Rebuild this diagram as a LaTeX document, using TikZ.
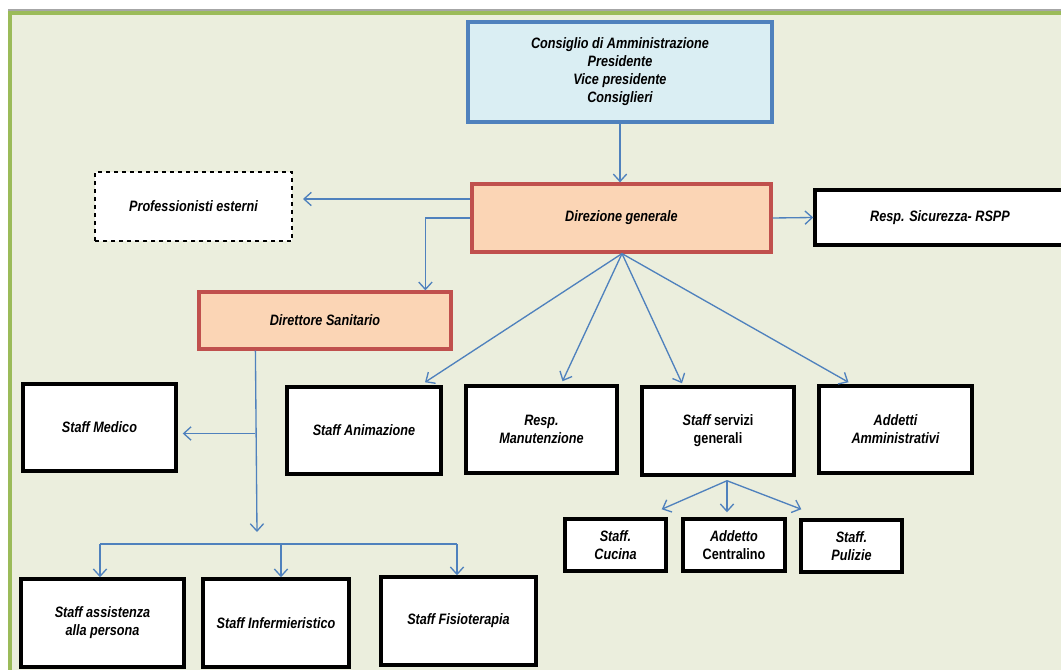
\documentclass[tikz,border=0pt]{standalone}
\usepackage{fontspec}
\setmainfont{Liberation Sans}[FakeStretch=0.84]
\usetikzlibrary{arrows.meta,calc}
\definecolor{bg}{HTML}{EBEEDD}
\definecolor{frame}{HTML}{9BBB59}
\definecolor{conn}{HTML}{4F81BD}
\definecolor{bluefill}{HTML}{DAEEF3}
\definecolor{orfill}{HTML}{FBD5B5}
\definecolor{redline}{HTML}{C0504D}
\tikzset{
  base/.style={rectangle, align=center, inner sep=1pt, font=\fontsize{11.3}{13.5}\selectfont\bfseries\itshape},
  bbox/.style={base, draw=black, line width=2.6pt, fill=white},
  topbox/.style={base, draw=conn, line width=2.6pt, fill=bluefill},
  redbox/.style={base, draw=redline, line width=2.4pt, fill=orfill},
  dashbox/.style={base, draw=black, dashed, line width=0.8pt, fill=white},
  arr/.style={draw=conn, line width=1pt, -{Straight Barb[length=5.5pt,width=10pt,line width=1pt]}},
  ln/.style={draw=conn, line width=1pt},
}
\begin{document}
\begin{tikzpicture}[x=0.75pt,y=-0.75pt]
\useasboundingbox (0,0) rectangle (1061,670);
% background and frame
\fill[bg] (10,11) rectangle (1061,670);
\fill[frame] (8,11) rectangle (1061,15);
\fill[frame] (8,11) rectangle (12,670);
\fill[black!35] (8,9.5) rectangle (1061,11);
% nodes
\node[topbox, minimum width=304*0.75pt, minimum height=100*0.75pt] (cda) at (620,72)
  {Consiglio di Amministrazione\\Presidente\\Vice presidente\\Consiglieri};
\node[redbox, minimum width=299*0.75pt, minimum height=68*0.75pt] (dg) at (621.5,218) {Direzione generale};
\node[dashbox, minimum width=197*0.75pt, minimum height=69*0.75pt] (pe) at (193.5,206.5) {Professionisti esterni};
\node[bbox, minimum width=250*0.75pt, minimum height=55*0.75pt] (rs) at (940,217.5) {Resp. Sicurezza- RSPP};
\node[redbox, minimum width=252*0.75pt, minimum height=57*0.75pt] (ds) at (325,320.5) {Direttore Sanitario};
\node[bbox, minimum width=153*0.75pt, minimum height=87*0.75pt] (sm) at (99.5,427.5) {Staff Medico};
\node[bbox, minimum width=154*0.75pt, minimum height=87*0.75pt] (sa) at (364,430.5) {Staff Animazione};
\node[bbox, minimum width=151*0.75pt, minimum height=87*0.75pt] (rm) at (541.5,429.5) {Resp.\\Manutenzione};
\node[bbox, minimum width=152*0.75pt, minimum height=88*0.75pt] (sg) at (718,431) {\textit{Staff} \upshape servizi\\\upshape generali};
\node[bbox, minimum width=153*0.75pt, minimum height=87*0.75pt] (aa) at (895.5,429.5) {Addetti\\Amministrativi};
\node[bbox, minimum width=101*0.75pt, minimum height=52*0.75pt] (sc) at (615.5,545) {Staff.\\Cucina};
\node[bbox, minimum width=102*0.75pt, minimum height=52*0.75pt] (ac) at (734,545) {Addetto\\\upshape Centralino};
\node[bbox, minimum width=101*0.75pt, minimum height=52*0.75pt] (sp) at (851.5,546) {Staff.\\Pulizie};
\node[bbox, minimum width=163*0.75pt, minimum height=88*0.75pt] (sap) at (102.5,623) {Staff assistenza\\alla persona};
\node[bbox, minimum width=146*0.75pt, minimum height=88*0.75pt] (si) at (276,623) {Staff Infermieristico};
\node[bbox, minimum width=155*0.75pt, minimum height=88*0.75pt] (sf) at (458.5,621) {Staff Fisioterapia};
% connectors
\draw[arr] (cda.south) -- (cda.south |- dg.north);
\coordinate (peend) at (303,199);
\draw[arr] (dg.west |- peend) -- (peend);
\draw[arr] (dg.west) -| ($(ds.north west)+(228,0)$);
\draw[arr] (dg.east) -- (rs.west);
\coordinate (fan) at ($(dg.south)+(0.5,0)$);
\draw[arr] (fan) -- ($(sa.north)+(61,-3)$);
\draw[arr] (fan) -- ($(rm.north)+(21,-3)$);
\draw[arr] (fan) -- ($(sg.north)+(-36,-2)$);
\draw[arr] (fan) -- ($(aa.north)+(-47,-2)$);
% direttore sanitario branch
\coordinate (dsd) at ($(ds.south west)+(58,0)$);
\coordinate (dsend) at (257,532);
\draw[arr] (dsd) -- (dsend);
\draw[arr] (dsd |- sm.east) ++(0,6) -- ($(sm.east)+(5,6)$);
\coordinate (busl) at (100,544);
\coordinate (busr) at (457,544);
\draw[ln] (busl) -- (busr);
\draw[arr] (busl) -- (busl |- sap.north);
\draw[arr] (busl -| si.north) ++(5,0) -- ($(si.north)+(5,0)$);
\draw[arr] (busr) -- (busr |- sf.north);
% servizi generali fan
\coordinate (sgf) at ($(sg.south)+(9,4)$);
\draw[arr] (sgf) -- ($(sc.north east)+(-6,-8)$);
\draw[arr] (sgf) -- ($(ac.north)+(-7,-5)$);
\draw[arr] (sgf) -- ($(sp.north west)+(2,-9)$);
\end{tikzpicture}
\end{document}
